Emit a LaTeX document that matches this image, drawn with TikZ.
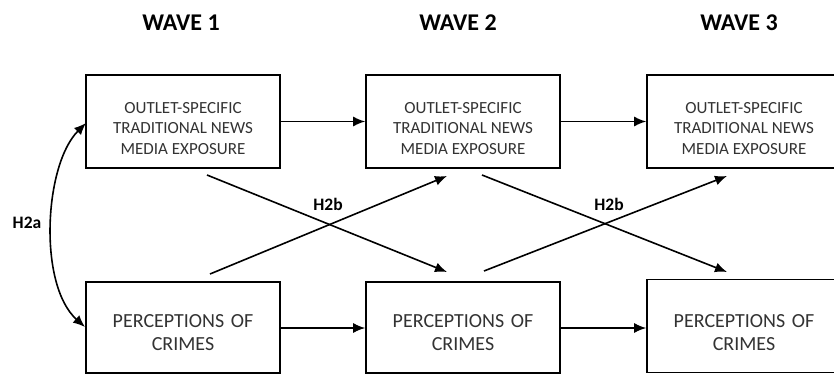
\documentclass[tikz,border=0pt]{standalone}
\usepackage{fontspec}
\setmainfont{Carlito}
\usetikzlibrary{arrows.meta}
\begin{document}
\begin{tikzpicture}[x=1pt,y=-1pt,
  varbox/.style={draw, line width=1.6pt, minimum width=194pt, minimum height=93pt, inner sep=0pt},
  mediatext/.style={align=center, text=black!80, font=\fontsize{17}{20.2}\selectfont, inner sep=0pt},
  perctext/.style={align=center, text=black!80, font=\fontsize{20}{23}\selectfont, inner sep=0pt},
  wavetitle/.style={font=\bfseries\fontsize{24}{28}\selectfont},
  hyplabel/.style={font=\bfseries\fontsize{17.5}{20}\selectfont},
  path/.style={line width=1.6pt, -{Latex[length=12pt,width=10pt]}},
  twoway/.style={line width=1.6pt, {Latex[length=12pt,width=10pt]}-{Latex[length=12pt,width=10pt]}}]
\useasboundingbox (0,0) rectangle (834,374);
\fill[white] (0,0) rectangle (834,374);

% wave headings
\node[wavetitle] (w1) at (181,23) {WAVE 1};
\node[wavetitle] (w2) at (458,23) {WAVE 2};
\node[wavetitle] (w3) at (739,23) {WAVE 3};

% media exposure row
\def\mediaexp{OUTLET-SPECIFIC\\TRADITIONAL NEWS\\MEDIA EXPOSURE}
\node[varbox, label={[mediatext, yshift=-7pt]center:\mediaexp}] (m1) at (183,121.5) {};
\node[varbox, label={[mediatext, yshift=-7pt]center:\mediaexp}] (m2) at (463,121.5) {};
\node[varbox, label={[mediatext, yshift=-7pt]center:\mediaexp}] (m3) at (744,121.5) {};

% perceptions row
\def\percrime{PERCEPTIONS\hspace{2pt} OF\\CRIMES}
\node[varbox, minimum height=91pt, label={[perctext, yshift=-5pt]center:\percrime}] (p1) at (183,327.5) {};
\node[varbox, minimum height=91pt, label={[perctext, yshift=-5pt]center:\percrime}] (p2) at (463,327.5) {};
\node[varbox, label={[perctext, yshift=-6.5pt]center:\percrime}] (p3) at (744,326) {};

% stability paths
\draw[path] (m1.east) -- (m2.west);
\draw[path] (m2.east) -- (m3.west);
\draw[path] (p1.east |- 0,328) -- (p2.west |- 0,328);
\draw[path] (p2.east |- 0,328) -- (p3.west |- 0,328);

% cross-lagged paths
\coordinate (m1s) at (207,175);
\coordinate (p2e) at (447,272);
\coordinate (p1s) at (210,274);
\coordinate (m2e) at (447,176);
\coordinate (m2s) at (482,175);
\coordinate (p3e) at (727,272);
\coordinate (p2s) at (484,271);
\coordinate (m3e) at (727,176);
\draw[path] (m1s) -- (p2e);
\draw[path] (p1s) -- (m2e);
\draw[path] (m2s) -- (p3e);
\draw[path] (p2s) -- (m3e);
\node[hyplabel] (h2b1) at (328,204) {H2b};
\node[hyplabel] (h2b2) at (609,204) {H2b};

% within-wave correlation
\coordinate (c1) at (86,123);
\coordinate (c2) at (85,327);
\draw[twoway] (c1) .. controls (44,165) and (38,285) .. (c2);
\node[hyplabel] (h2a) at (27,223) {H2a};
\end{tikzpicture}
\end{document}
